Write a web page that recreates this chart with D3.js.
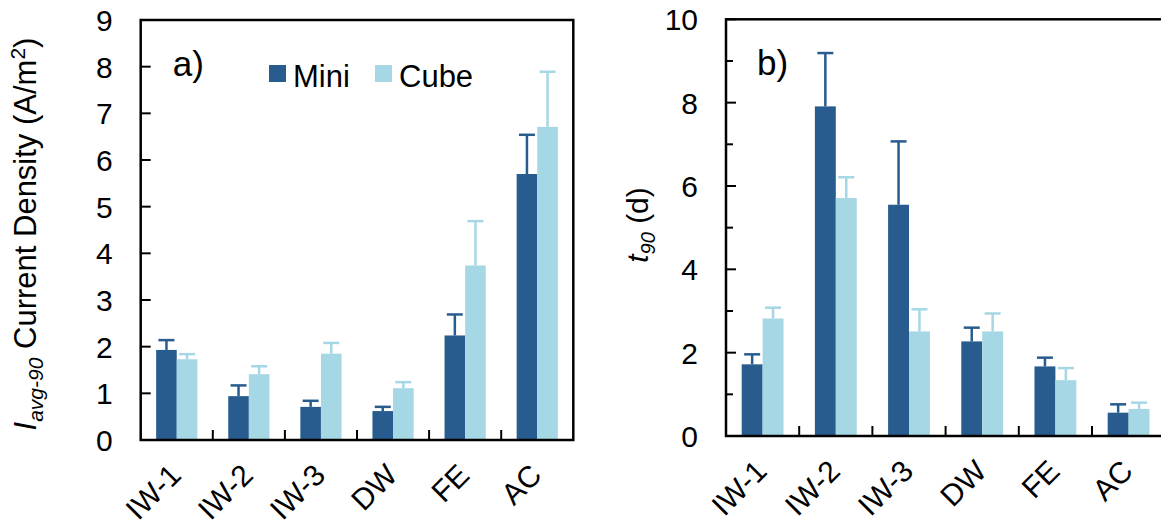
<!DOCTYPE html>
<html>
<head>
<meta charset="utf-8">
<script src="https://cdn.jsdelivr.net/npm/d3@7"></script>
<style>
  body { margin: 0; background: #fff; }
  text { font-family: Arial, "Liberation Sans", sans-serif; fill: #000; }
</style>
</head>
<body>
<svg width="1161" height="531"></svg>
<script>
// data
const categories = ["IW-1", "IW-2", "IW-3", "DW", "FE", "AC"];
const series = ["Mini", "Cube"];
const colors = ["#285C8E", "#A5D7E4"];

// a) current density (A/m2), value + upper error
const currentMini    = [1.93, 0.94, 0.71, 0.62, 2.24, 5.70];
const currentMiniErr = [0.21, 0.23, 0.13, 0.09, 0.45, 0.84];
const currentCube    = [1.73, 1.41, 1.85, 1.11, 3.74, 6.71];
const currentCubeErr = [0.11, 0.17, 0.23, 0.13, 0.95, 1.18];

// b) t90 (d)
const t90Mini    = [1.72, 7.91, 5.55, 2.27, 1.67, 0.56];
const t90MiniErr = [0.24, 1.28, 1.52, 0.33, 0.21, 0.20];
const t90Cube    = [2.82, 5.71, 2.51, 2.51, 1.34, 0.65];
const t90CubeErr = [0.26, 0.50, 0.53, 0.43, 0.29, 0.15];

const currentTicks = [0, 1, 2, 3, 4, 5, 6, 7, 8, 9];
const t90Ticks = [0, 1, 2, 3, 4, 5, 6, 7, 8, 9, 10];

const svg = d3.select("svg");

function panel(opts) {
  const g = svg.append("g").attr("transform", `translate(${opts.left},${opts.top})`);
  const w = opts.width, h = opts.height;

  const x0 = d3.scaleBand().domain(categories).range([0, w]);
  const x1 = d3.scaleBand().domain(series).range([0, x0.bandwidth()]).paddingOuter(0.75);
  const y = d3.scaleLinear().domain([0, opts.max]).range([h, 0]);

  const rows = [];
  categories.forEach((c, i) => {
    opts.values.forEach((vals, s) => {
      rows.push({cat: c, s: series[s], v: vals[i], e: opts.errs[s][i], color: colors[s]});
    });
  });

  // bars
  g.selectAll(".bar").data(rows).join("rect")
    .attr("x", d => x0(d.cat) + x1(d.s))
    .attr("y", d => y(d.v))
    .attr("width", x1.bandwidth())
    .attr("height", d => h - y(d.v))
    .attr("fill", d => d.color);

  // error bars (upper only)
  const eb = g.selectAll(".err").data(rows).join("g")
    .attr("transform", d => `translate(${x0(d.cat) + x1(d.s) + x1.bandwidth() / 2},0)`)
    .attr("stroke", d => d.color)
    .attr("stroke-width", 2.5);
  eb.append("line")
    .attr("y1", d => y(d.v)).attr("y2", d => y(d.v + d.e));
  eb.append("line")
    .attr("x1", -8).attr("x2", 8)
    .attr("y1", d => y(d.v + d.e)).attr("y2", d => y(d.v + d.e));

  // y ticks (inward)
  const yt = g.selectAll(".ytick").data(opts.ticks).join("g")
    .attr("transform", d => `translate(0,${y(d)})`);
  yt.append("line")
    .attr("x2", d => opts.labelEvery(d) ? 10 : 7)
    .attr("stroke", "#000").attr("stroke-width", 2);
  yt.filter(d => opts.labelEvery(d)).append("text")
    .attr("x", -28).attr("dy", "0.37em")
    .attr("text-anchor", "end")
    .style("font-size", "30px")
    .text(d => d);

  // x ticks between categories (inward)
  g.selectAll(".xtick").data(categories.slice(1)).join("line")
    .attr("x1", d => x0(d)).attr("x2", d => x0(d))
    .attr("y1", h).attr("y2", h - 10)
    .attr("stroke", "#000").attr("stroke-width", 2);

  // category labels, rotated
  g.selectAll(".xlab").data(categories).join("text")
    .attr("transform", d => `translate(${x0(d) + x0.bandwidth() / 2 + 6},${h + 37}) rotate(-45)`)
    .attr("text-anchor", "end")
    .style("font-size", "30px")
    .text(d => d);

  // frame
  g.append("rect")
    .attr("width", w).attr("height", h)
    .attr("fill", "none").attr("stroke", "#000").attr("stroke-width", 2.5);

  // panel letter
  g.append("text")
    .attr("x", opts.tagX).attr("y", 56)
    .style("font-size", "35px")
    .text(opts.tag);

  return {g, x0, y};
}

// panel a
panel({
  left: 140.7, top: 20, width: 432.6, height: 420,
  max: 9, ticks: currentTicks, labelEvery: d => true,
  values: [currentMini, currentCube], errs: [currentMiniErr, currentCubeErr],
  tag: "a)", tagX: 32
});

// panel b
panel({
  left: 726, top: 19.3, width: 439.2, height: 416.7,
  max: 10, ticks: t90Ticks, labelEvery: d => d % 2 === 0,
  values: [t90Mini, t90Cube], errs: [t90MiniErr, t90CubeErr],
  tag: "b)", tagX: 31
});

// legend (panel a)
const legendX = [269, 375];
const leg = svg.selectAll(".leg").data(series).join("g")
  .attr("transform", (d, i) => `translate(${legendX[i]},65)`);
leg.append("rect").attr("width", 17).attr("height", 17).attr("fill", (d, i) => colors[i]);
leg.append("text").attr("x", 24).attr("y", 22).style("font-size", "31px").text(d => d);

// y axis titles
const yl = svg.append("text")
  .attr("transform", "translate(36,234) rotate(-90)")
  .attr("text-anchor", "middle")
  .style("font-size", "31px");
yl.append("tspan").style("font-style", "italic").text("I");
yl.append("tspan").style("font-style", "italic").style("font-size", "21px").attr("dy", 7).text("avg-90");
yl.append("tspan").attr("dy", -7).text(" Current Density (A/m");
yl.append("tspan").style("font-size", "21px").attr("dy", -11).text("2");
yl.append("tspan").attr("dy", 11).text(")");

const yr = svg.append("text")
  .attr("transform", "translate(648,225) rotate(-90)")
  .attr("text-anchor", "middle")
  .style("font-size", "30px");
yr.append("tspan").style("font-style", "italic").text("t");
yr.append("tspan").style("font-style", "italic").style("font-size", "20px").attr("dy", 7).text("90");
yr.append("tspan").attr("dy", -7).text(" (d)");
</script>
</body>
</html>
